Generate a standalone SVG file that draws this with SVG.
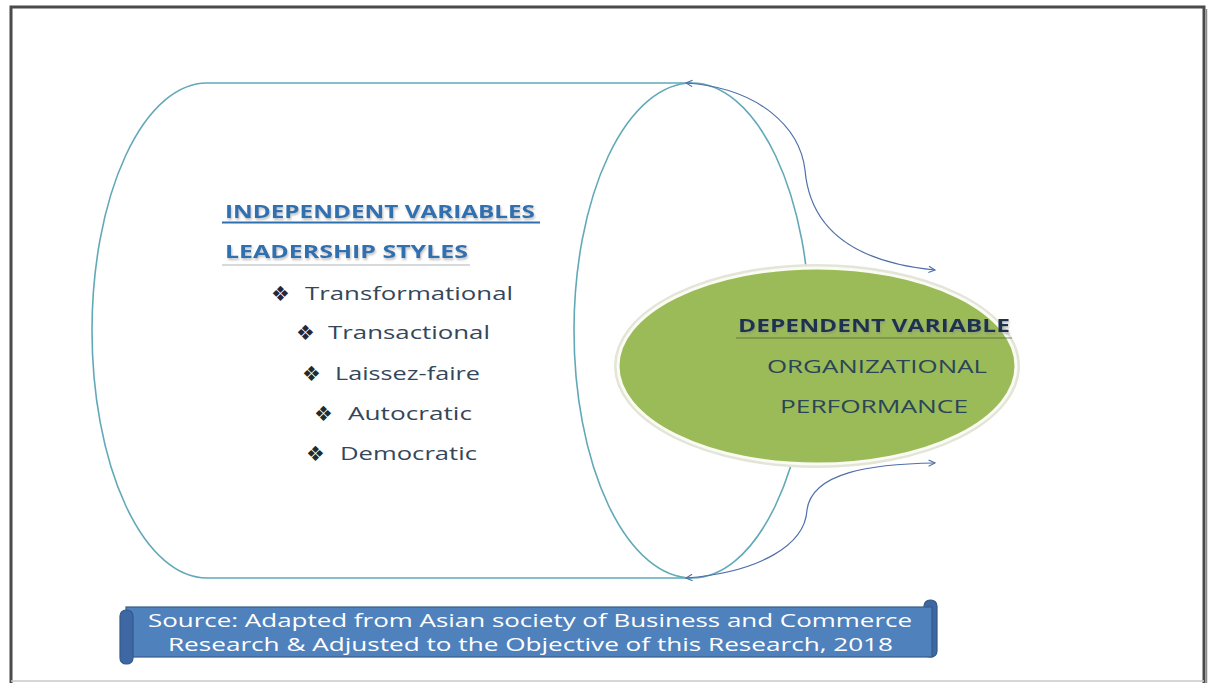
<svg xmlns="http://www.w3.org/2000/svg" width="1213" height="683" viewBox="0 0 1213 683">
  <defs>
    <style>
      .frame { fill: none; stroke: #4a4a4a; stroke-width: 3; }
      .can { fill: none; stroke: #62a9b8; stroke-width: 1.6; }
      .link { fill: none; stroke: #4f6fa8; stroke-width: 1.2; marker-start: url(#tip); marker-end: url(#tip); }
      .head { font-family: "Open Sans", "Liberation Sans", sans-serif; font-weight: bold; font-size: 18px; fill: #2e6fb0; }
      .item { font-family: "Open Sans", "Liberation Sans", sans-serif; font-size: 18px; fill: #34475a; }
      .bullet { font-family: "DejaVu Sans", sans-serif; font-size: 21px; fill: #1f2a36; }
      .dep { font-family: "Open Sans", "Liberation Sans", sans-serif; font-weight: bold; font-size: 18px; fill: #1a3350; }
      .perf { font-family: "Open Sans", "Liberation Sans", sans-serif; font-size: 18px; fill: #2a4556; }
      .src { font-family: "Open Sans", "Liberation Sans", sans-serif; font-size: 17.5px; fill: #ffffff; }
    </style>
    <marker id="tip" viewBox="0 0 10 10" refX="9" refY="5" markerWidth="8" markerHeight="8" markerUnits="userSpaceOnUse" orient="auto-start-reverse">
      <path d="M1,1 L9,5 L1,9" fill="none" stroke="#4f6fa8" stroke-width="1.4"/>
    </marker>
    <filter id="soft" x="-5%" y="-20%" width="110%" height="160%">
      <feDropShadow dx="1" dy="2" stdDeviation="1" flood-color="#8a8a8a" flood-opacity="0.55"/>
    </filter>
  </defs>

  <rect width="1213" height="683" fill="#ffffff"/>

  <!-- outer frame -->
  <g id="frame">
    <path class="frame" d="M11,683 V7 H1204 V683"/>
    <line x1="1206.5" y1="9" x2="1206.5" y2="683" stroke="#8c8c8c" stroke-width="1.5"/>
    <line x1="11" y1="681" x2="1204" y2="681" stroke="#c9c9c9" stroke-width="1.5"/>
  </g>

  <!-- horizontal cylinder holding the independent variables -->
  <g id="independent">
    <path class="can" d="M692,83 H207 A115,247.5 0 0 0 207,578 H692"/>
    <ellipse class="can" cx="692" cy="330.5" rx="118" ry="247.5"/>
    <text class="head" x="225" y="218" textLength="310" lengthAdjust="spacingAndGlyphs" filter="url(#soft)">INDEPENDENT VARIABLES</text>
    <line x1="222" y1="222.5" x2="540" y2="222.5" stroke="#2e6fb0" stroke-width="1.8"/>
    <text class="head" x="225" y="258" textLength="243" lengthAdjust="spacingAndGlyphs" filter="url(#soft)">LEADERSHIP STYLES</text>
    <line x1="222" y1="265" x2="470" y2="265" stroke="#b0b6bc" stroke-width="1.2"/>

    <text class="bullet" x="271" y="301">❖</text>
    <text class="item" x="305" y="300" textLength="208" lengthAdjust="spacingAndGlyphs">Transformational</text>
    <text class="bullet" x="296" y="340">❖</text>
    <text class="item" x="328" y="339" textLength="162" lengthAdjust="spacingAndGlyphs">Transactional</text>
    <text class="bullet" x="302" y="381">❖</text>
    <text class="item" x="335" y="380" textLength="145" lengthAdjust="spacingAndGlyphs">Laissez-faire</text>
    <text class="bullet" x="314" y="421">❖</text>
    <text class="item" x="348" y="420" textLength="124" lengthAdjust="spacingAndGlyphs">Autocratic</text>
    <text class="bullet" x="306" y="461">❖</text>
    <text class="item" x="340" y="460" textLength="137" lengthAdjust="spacingAndGlyphs">Democratic</text>
  </g>

  <!-- curved links from the cylinder rim to the outcome -->
  <g id="connectors">
    <path class="link" d="M686,83 C760,88 800,128 805,170 C810,228 852,262 935,270"/>
    <path class="link" d="M686,578 C760,572 805,545 807,510 C812,472 872,464 935,463"/>
  </g>

  <!-- dependent variable ellipse -->
  <g id="dependent">
    <ellipse cx="817" cy="366" rx="201" ry="100" fill="none" stroke="#e2e5d8" stroke-width="4"/>
    <ellipse cx="817" cy="366" rx="199" ry="98" fill="#9bbb59" stroke="#fafbf2" stroke-width="3"/>
    <text class="dep" x="738" y="332" textLength="272" lengthAdjust="spacingAndGlyphs" filter="url(#soft)">DEPENDENT VARIABLE</text>
    <line x1="736" y1="338" x2="1012" y2="338" stroke="#4e5a3a" stroke-width="1.2" opacity="0.7"/>
    <text class="perf" x="767" y="373" textLength="220" lengthAdjust="spacingAndGlyphs">ORGANIZATIONAL</text>
    <text class="perf" x="780" y="413" textLength="188" lengthAdjust="spacingAndGlyphs">PERFORMANCE</text>
  </g>

  <!-- source scroll banner -->
  <g id="source">
    <rect x="924" y="600" width="13" height="57" rx="6" fill="#3d68a3" stroke="#34598a" stroke-width="1.2"/>
    <rect x="126" y="607" width="806" height="50" fill="#4f81bd" stroke="#385d8a" stroke-width="1.2"/>
    <rect x="120" y="610" width="13" height="54" rx="6" fill="#3d68a3" stroke="#34598a" stroke-width="1.2"/>
    <text class="src" x="148" y="627" textLength="764" lengthAdjust="spacingAndGlyphs">Source: Adapted from Asian society of Business and Commerce</text>
    <text class="src" x="168" y="651" textLength="725" lengthAdjust="spacingAndGlyphs">Research &amp; Adjusted to the Objective of this Research, 2018</text>
  </g>
</svg>
